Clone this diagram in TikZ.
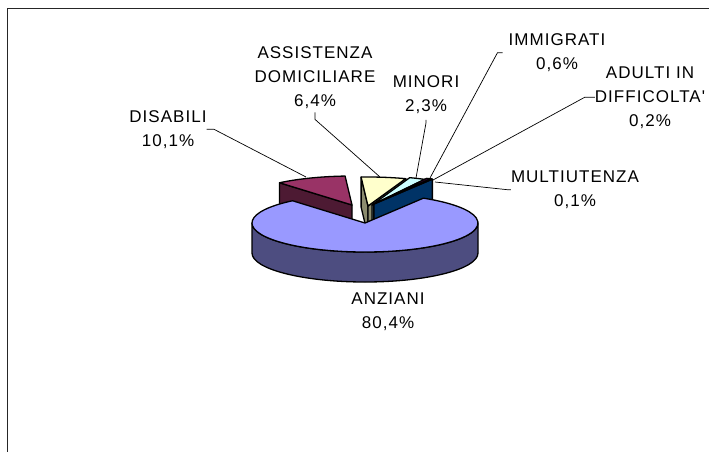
\documentclass[tikz,border=0pt]{standalone}
\usepackage{fontspec}
\newfontfamily\labfont[LetterSpace=6]{Liberation Sans}
\usetikzlibrary{calc}
\definecolor{anzTop}{HTML}{9999FF}
\definecolor{anzSide}{HTML}{4D4D80}
\definecolor{disTop}{HTML}{993366}
\definecolor{disSide}{HTML}{4D1A33}
\definecolor{assTop}{HTML}{FFFFCC}
\definecolor{assSide}{HTML}{8C8C6E}
\definecolor{minTop}{HTML}{CCFFFF}
\definecolor{minSide}{HTML}{668080}
\definecolor{immTop}{HTML}{660066}
\definecolor{immSide}{HTML}{330033}
\definecolor{aduTop}{HTML}{FF8080}
\definecolor{aduSide}{HTML}{804040}
\definecolor{mulTop}{HTML}{0066CC}
\definecolor{mulSide}{HTML}{003366}
\newcommand\pieTop[4]{\filldraw[face, fill=#4] (#1) -- ++(-#2:113 and 29) arc[start angle=-#2, end angle=-#3, x radius=113, y radius=29] -- cycle;}
\newcommand\pieRad[3]{\filldraw[face, fill=#3] (#1) -- ++(-#2:113 and 29) -- ++(0,30) -- ($(#1)+(0,30)$) -- cycle;}
\begin{document}
\begin{tikzpicture}[x=1pt,y=-1pt,
  face/.style={draw=black, line width=1.3pt, line join=round},
  lead/.style={draw=black, line width=0.7pt},
  lab/.style={font=\labfont\fontsize{17}{24}\selectfont, align=center, inner sep=0pt, anchor=base},
  frame/.style={draw=black!85, line width=1pt}]
\useasboundingbox (0,0) rectangle (709,451);
\draw[frame] (7,8) rectangle (720,460);
% slice centres
\coordinate (cD) at (352,205);
\coordinate (cS) at (368,206);
\coordinate (cM) at (372,205);
\coordinate (cI) at (374,204);
\coordinate (cA) at (365,223);
% DISABILI
\pieRad{cD}{129.9}{disSide}
\pieTop{cD}{93.5}{129.9}{disTop}
% ASSISTENZA DOMICILIARE
\pieRad{cS}{93.5}{assSide}
\pieRad{cS}{70.5}{assSide}
\pieTop{cS}{70.5}{93.5}{assTop}
% MINORI
\pieRad{cM}{62.2}{minSide}
\pieTop{cM}{62.2}{70.5}{minTop}
% IMMIGRATI
\pieRad{cI}{60.0}{immSide}
\pieTop{cI}{60.0}{62.2}{immTop}
% ADULTI IN DIFFICOLTA'
\pieRad{cI}{59.3}{aduSide}
\pieTop{cI}{59.3}{60.0}{aduTop}
% MULTIUTENZA
\pieRad{cI}{58.9}{mulSide}
\pieTop{cI}{58.9}{59.3}{mulTop}
% ANZIANI
\filldraw[face, fill=anzSide] (cA) ++(-180:113 and 29) arc[start angle=-180, end angle=-360, x radius=113, y radius=29] -- ++(0,30) arc[start angle=-360, end angle=-180, x radius=113, y radius=29] -- cycle;
\pieTop{cA}{129.9}{418.9}{anzTop}
% labels (anchor = baseline of the last line)
\node[lab] (dis) at (168,146) {DISABILI\\10,1\%};
\node[lab] (ass) at (315,106) {ASSISTENZA\\DOMICILIARE\\6,4\%};
\node[lab] (min) at (426,111.5) {MINORI\\2,3\%};
\node[lab] (imm) at (557,69.5) {IMMIGRATI\\0,6\%};
\node[lab] (adu) at (650,126) {ADULTI IN\\DIFFICOLTA'\\0,2\%};
\node[lab] (mul) at (575,206.5) {MULTIUTENZA\\0,1\%};
\node[lab] (anz) at (388,328) {ANZIANI\\80,4\%};
% leader end points
\coordinate (pD) at (306,177);
\coordinate (pS) at (380,177);
\coordinate (pM) at (416,178);
\coordinate (pI) at (430,178);
\coordinate (pAd) at (433,180);
\coordinate (pMu) at (435,182);
\draw[lead] (dis.east) -- ++(7,0) -- (pD);
\draw[lead] ([yshift=-4pt]ass.south) -- ++(0,7) -- (pS);
\draw[lead] ([yshift=-6pt]min.south) -- ++(0,3) -- (pM);
\draw[lead] ([xshift=-6pt]imm.west) -- ++(-5,0) -- (pI);
\draw[lead] (adu.west) -- ++(-10,0) -- (pAd);
\draw[lead] (mul.west) -- ++(-3,0) -- (pMu);
\end{tikzpicture}
\end{document}
